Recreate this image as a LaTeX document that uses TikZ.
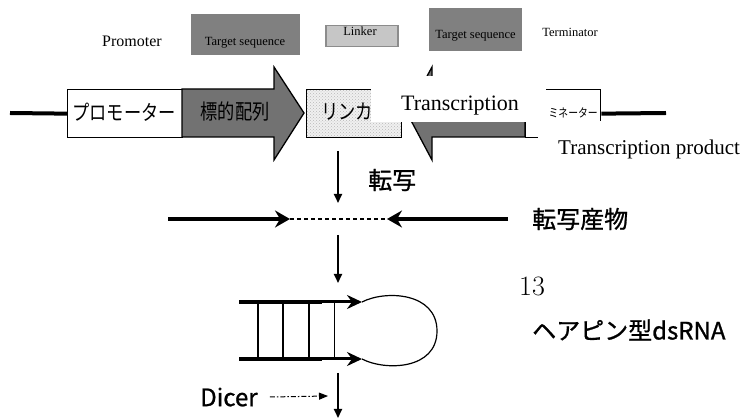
\documentclass[tikz,border=0pt]{standalone}
\usepackage{fontspec}
\usetikzlibrary{arrows.meta,patterns}
\newfontfamily\serifen{Liberation Serif}
\newfontface\jp[FakeBold=1]{Noto Sans CJK JP}
\newfontfamily\jpnarrow[FakeStretch=0.82]{Noto Sans CJK JP}
\definecolor{seqgray}{RGB}{114,114,114}
\definecolor{boxgray}{RGB}{128,128,128}
\definecolor{linkedge}{RGB}{140,140,140}
\tikzset{
  legend/.style={inner sep=0pt, font=\serifen\fontsize{12.5}{12.5}\selectfont},
  seqbox/.style={fill=boxgray, draw=none, inner sep=0pt, anchor=north west},
  backbone/.style={line width=4pt},
  part/.style={draw=black, line width=1.3pt, inner sep=0pt, anchor=north west},
  linkfill/.style={preaction={fill=gray!12}, pattern=crosshatch dots, pattern color=gray!55},
  strand/.style={line width=4.5pt, -{Stealth[length=15pt,width=17pt,inset=5pt]}},
  thinstrand/.style={line width=3pt, -{Stealth[length=15pt,width=14pt,inset=5pt]}},
  down/.style={line width=2pt, -{Triangle[length=9pt,width=8pt]}},
  jplabel/.style={font=\jp\fontsize{24}{24}\selectfont, inner sep=0pt},
  boxlabel/.style={font=\jpnarrow\fontsize{21}{21}\selectfont, inner sep=0pt},
  cover/.style={fill=white, draw=none, inner sep=0pt, anchor=north west},
}
\begin{document}
\begin{tikzpicture}[x=1pt,y=-1pt]
\useasboundingbox (0,0) rectangle (742,419);

% ---- legend row ----
\node (lpro) [legend, font=\serifen\fontsize{16}{16}\selectfont, anchor=base] at (132,47) {Promoter};
\node (ltgt1) [seqbox, minimum width=109pt, minimum height=41pt] at (191,14) {};
\node (ltgt1t) [legend, anchor=base] at (245,46) {Target sequence};
\node (llnk) [seqbox, draw=linkedge, line width=1.5pt, preaction={fill=gray!45},
  pattern=crosshatch dots, pattern color=gray!80, fill=none,
  minimum width=72pt, minimum height=21pt] at (325,25) {};
\node (llnkt) [legend, anchor=base] at (360,36) {Linker};
\node (ltgt2) [seqbox, minimum width=93pt, minimum height=43pt] at (429,8) {};
\node (ltgt2t) [legend, anchor=base] at (475.5,39) {Target sequence};
\node (lterm) [legend, anchor=base] at (570,37) {Terminator};

% ---- construct ----
\coordinate (bbL) at (10,113);
\coordinate (bbR) at (666,113);
\node (prom) [part, fill=white, minimum width=115pt, minimum height=48pt] at (67,89) {};
\node (promt) [boxlabel] at (124,112) {プロモーター};
\draw[backbone] (bbL) -- (prom.west);
\draw[part, fill=seqgray] (182,89) -- (274,89) -- (274,67) -- (304,113)
  -- (274,160) -- (274,137) -- (182,137) -- cycle;
\node (tgt) [boxlabel] at (235,112) {標的配列};
\node (link) [part, linkfill, minimum width=95pt, minimum height=48pt] at (306,89) {};
\node (linkt) [boxlabel, anchor=west] at (321,112) {リンカー};
\draw[part, fill=seqgray] (525,89) -- (432,89) -- (432,67) -- (407,113)
  -- (432,160) -- (432,137) -- (525,137) -- cycle;
\node (term) [part, fill=white, minimum width=75pt, minimum height=48pt] at (525,89) {};
\node (termt) [font=\jpnarrow\fontsize{12}{12}\selectfont, inner sep=0pt, anchor=east] at (598,113) {ミネーター};
\draw[backbone] (term.east) -- (bbR);

% label panels laid over the construct
\node (trpanel) [cover, minimum width=175pt, minimum height=46pt] at (371,76) {};
\node (trtext) [inner sep=0pt, font=\serifen\fontsize{22}{22}\selectfont, anchor=base] at (460,111) {Transcription};
\node (prpanel) [cover, minimum width=204pt, minimum height=42pt] at (538,121) {};
\node (prtext) [inner sep=0pt, font=\serifen\fontsize{21}{21}\selectfont, anchor=base west] at (558,155) {Transcription product};

% ---- transcription ----
\coordinate (d1s) at (338,151);
\coordinate (d1e) at (338,203);
\draw[down] (d1s) -- (d1e);
\node (zs) [jplabel, anchor=west] at (368,180) {転写};

\coordinate (tl) at (168,219);
\coordinate (tlm) at (290,219);
\coordinate (trm) at (387,219);
\coordinate (tr) at (508,219);
\draw[strand] (tl) -- (tlm);
\draw[line width=1.2pt, dash pattern=on 4pt off 3pt] (tlm) -- (trm);
\draw[strand] (tr) -- (trm);
\node (zsp) [jplabel, anchor=west] at (532,219) {転写産物};

% ---- hairpin ----
\coordinate (d2s) at (338,235);
\coordinate (d2e) at (338,283);
\draw[down] (d2s) -- (d2e);
\coordinate (us) at (239,302);
\coordinate (um) at (322,302);
\coordinate (ue) at (362,302);
\coordinate (ls) at (239,359);
\coordinate (lm) at (322,359);
\coordinate (le) at (362,359);
\foreach \x in {258,283,309} \draw[line width=1.5pt] (\x,302) -- (\x,359);
\draw[line width=1pt] (334,302) -- (334,359);
\draw[line width=4.5pt] (us) -- (um);
\draw[line width=4.5pt] (ls) -- (lm);
\draw[thinstrand] (um) -- (ue);
\draw[thinstrand] (lm) -- (le);
\draw[line width=1.2pt] (ue) .. controls (385,290) and (437,292) .. (437,331)
  .. controls (437,370) and (385,371) .. (le);
\node (num) [inner sep=0pt, font=\fontsize{28}{28}\selectfont, anchor=base west] at (519,296) {13};
\node (hp) [jplabel, anchor=west] at (532,330) {ヘアピン型dsRNA};

% ---- dicer ----
\coordinate (d3s) at (338,373);
\coordinate (d3e) at (338,418);
\draw[down] (d3s) -- (d3e);
\node (dicer) [jplabel, anchor=west] at (200,397) {Dicer};
\coordinate (dtip) at (328,396);
\draw[line width=1pt, dash pattern=on 5pt off 2pt on 1.5pt off 2pt,
  -{Triangle[length=9pt,width=7pt]}] ([xshift=12pt]dicer.east) -- (dtip);
\end{tikzpicture}
\end{document}
